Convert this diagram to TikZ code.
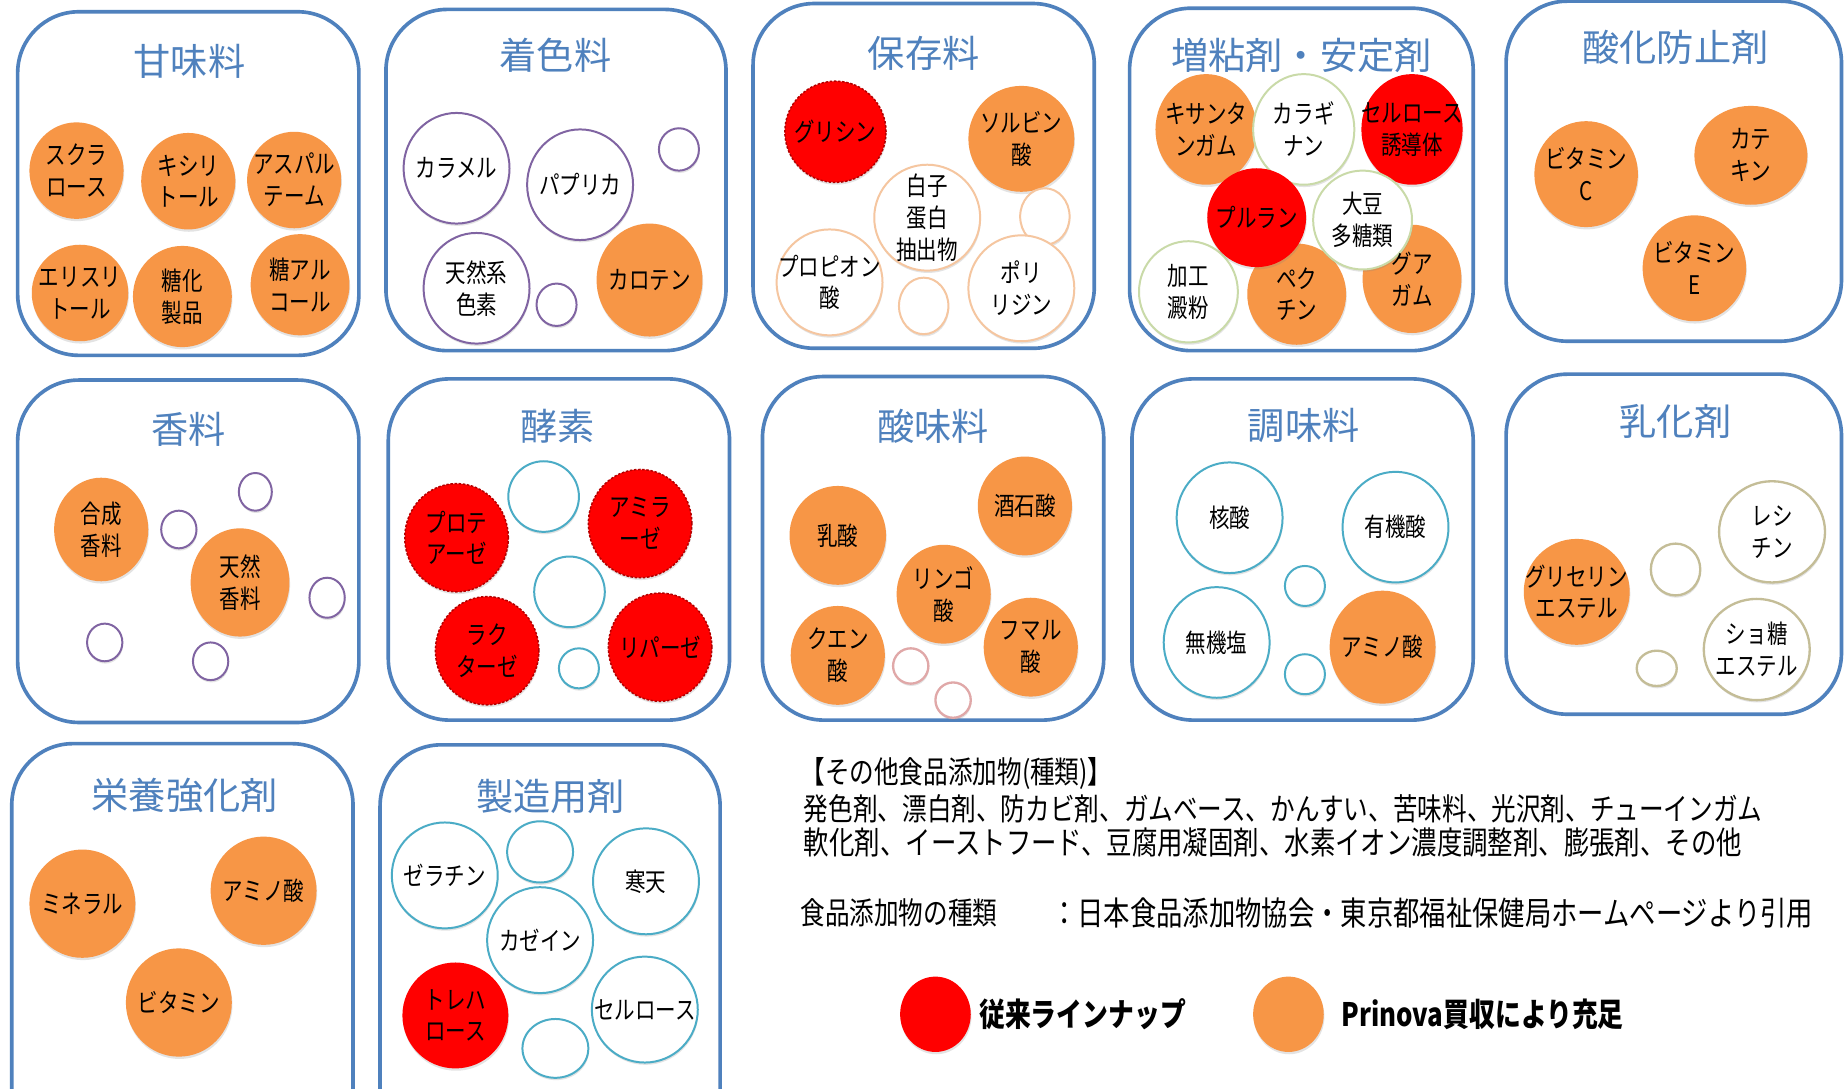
\documentclass[tikz,border=0pt]{standalone}
\usepackage{fontspec}
\setmainfont{Noto Sans CJK JP}
\newfontfamily\jp{Noto Sans CJK JP}
\newfontfamily\jpc{Noto Sans CJK JP}[FakeStretch=0.8]
\usetikzlibrary{shapes.geometric,shadows}
\definecolor{ofblue}{HTML}{4F81BD}
\definecolor{oforange}{HTML}{F79646}
\definecolor{ofred}{HTML}{FF0000}
\definecolor{ofpurple}{HTML}{8064A2}
\definecolor{ofpeach}{HTML}{F5C6A0}
\definecolor{ofgreen}{HTML}{C9DAA8}
\definecolor{ofteal}{HTML}{4BACC6}
\definecolor{ofpink}{HTML}{E0A8A8}
\definecolor{ofkhaki}{HTML}{C4BD97}
\newcommand{\bub}[6]{\node[#1, minimum width=#4*0.05cm, minimum height=#5*0.05cm] (#6) at (#2,#3) {};}
\begin{document}
\begin{tikzpicture}[x=0.025cm, y=-0.025cm,
  panel/.style={draw=ofblue, line width=2.2pt, rounded corners=1.3cm},
  ttl/.style={text=ofblue, font=\jp\fontsize{22.5}{26}\selectfont, inner sep=0pt},
  bb/.style={ellipse, inner sep=0pt, drop shadow={shadow xshift=0.4pt, shadow yshift=-1.4pt, opacity=0.22}},
  orb/.style={bb, fill=oforange},
  redb/.style={bb, fill=ofred},
  redj/.style={bb, fill=ofred, draw=ofred!70!black, line width=0.9pt, dash pattern=on 1.5pt off 1pt},
  pur/.style={bb, fill=white, draw=ofpurple, line width=1.2pt},
  pea/.style={bb, fill=white, draw=ofpeach, line width=1.2pt},
  grn/.style={bb, fill=white, draw=ofgreen, line width=1.2pt},
  tea/.style={bb, fill=white, draw=ofteal, line width=1.2pt},
  pnk/.style={bb, fill=white, draw=ofpink, line width=1.4pt},
  kha/.style={bb, fill=white, draw=ofkhaki, line width=1.4pt},
  ctext/.style={align=center, inner sep=0pt, font=\jpc\fontsize{15.5}{19.2}\selectfont},
  otext/.style={anchor=west, inner sep=0pt, font=\jpc\fontsize{18.6}{21}\selectfont},
  ltext/.style={anchor=west, inner sep=0pt, font=\jpc\bfseries\fontsize{19.5}{21}\selectfont},
]
\fill[white] (0,0) rectangle (1568,925);
\useasboundingbox (0,0) rectangle (1568,925);

% ---------- panels ----------
\draw[panel] (15,10) rectangle (305,302);
\draw[panel] (328,8) rectangle (617,298);
\draw[panel] (640,3) rectangle (930,296);
\draw[panel] (960,7) rectangle (1252,298);
\draw[panel] (1280,1) rectangle (1565,290);
\draw[panel] (15,323) rectangle (305,614);
\draw[panel] (330,322) rectangle (620,612);
\draw[panel] (648,320) rectangle (938,612);
\draw[panel] (962,322) rectangle (1252,612);
\draw[panel] (1280,318) rectangle (1565,607);
\draw[panel] (10,632) rectangle (300,980);
\draw[panel] (323,633) rectangle (612,980);

% ---------- titles ----------
\node[ttl] (T1) at (161,52) {甘味料};
\node[ttl] (T2) at (472,47) {着色料};
\node[ttl] (T3) at (785,45) {保存料};
\node[ttl] (T4) at (1106,47) {増粘剤・安定剤};
\node[ttl] (T5) at (1424,40) {酸化防止剤};
\node[ttl] (T6) at (160,365) {香料};
\node[ttl] (T7) at (474,362) {酵素};
\node[ttl] (T8) at (793,362) {酸味料};
\node[ttl] (T9) at (1108,362) {調味料};
\node[ttl] (T10) at (1424,358) {乳化剤};
\node[ttl] (T11) at (157,676) {栄養強化剤};
\node[ttl] (T12) at (468,677) {製造用剤};

% ---------- 甘味料 ----------
\bub{orb}{65}{145}{40}{41}{a1}
\bub{orb}{160}{154}{40}{41}{a2}
\bub{orb}{250}{153}{40}{41}{a3}
\bub{orb}{68}{249}{41}{41}{a4}
\bub{orb}{155}{252}{42}{43}{a5}
\bub{orb}{255}{242}{42}{43}{a6}
\node[ctext] (ta1) at (a1) {スクラ\\ロース};
\node[ctext] (ta2) at (a2) {キシリ\\トール};
\node[ctext] (ta3) at (a3) {アスパル\\テーム};
\node[ctext] (ta4) at (a4) {エリスリ\\トール};
\node[ctext] (ta5) at (a5) {糖化\\製品};
\node[ctext] (ta6) at (a6) {糖アル\\コール};

% ---------- 着色料 ----------
\bub{pur}{388}{143}{45}{47}{b1}
\bub{pur}{493}{157}{45}{47}{b2}
\bub{pur}{577}{127}{17}{18}{b3}
\bub{pur}{405}{245}{45}{47}{b4}
\bub{pur}{473}{259}{17}{18}{b5}
\bub{orb}{552}{238}{45}{48}{b6}
\node[ctext] (tb1) at (b1) {カラメル};
\node[ctext] (tb2) at (b2) {パプリカ};
\node[ctext] (tb4) at (b4) {天然系\\色素};
\node[ctext] (tb6) at (b6) {カロテン};

% ---------- 保存料 ----------
\bub{redj}{710}{112}{43}{43}{c1}
\bub{orb}{868}{118}{45}{45}{c2}
\bub{pea}{788}{185}{45}{45}{c3}
\bub{pea}{888}{184}{21}{24}{c4}
\bub{pea}{705}{240}{45}{45}{c5}
\bub{pea}{785}{260}{21}{24}{c6}
\bub{pea}{868}{245}{45}{45}{c7}
\node[ctext] (tc1) at (c1) {グリシン};
\node[ctext] (tc2) at (c2) {ソルビン\\酸};
\node[ctext] (tc3) at (c3) {白子\\蛋白\\抽出物};
\node[ctext] (tc5) at (c5) {プロピオン\\酸};
\node[ctext] (tc7) at (c7) {ポリ\\リジン};

% ---------- 増粘剤・安定剤 ----------
\bub{orb}{1025}{110}{43}{47}{d1}
\bub{grn}{1108}{110}{43}{47}{d2}
\bub{redb}{1200}{110}{43}{47}{d3}
\bub{grn}{1010}{248}{42}{43}{d6}
\bub{orb}{1102}{250}{42}{43}{d7}
\bub{orb}{1200}{237}{42}{46}{d8}
\bub{redb}{1068}{185}{42}{42}{d4}
\bub{grn}{1158}{187}{42}{42}{d5}
\node[ctext] (td1) at (d1) {キサンタ\\ンガム};
\node[ctext] (td2) at (d2) {カラギ\\ナン};
\node[ctext] (td3) at (d3) {セルロース\\誘導体};
\node[ctext] (td4) at (d4) {プルラン};
\node[ctext] (td5) at (d5) {大豆\\多糖類};
\node[ctext] (td6) at (d6) {加工\\澱粉};
\node[ctext] (td7) at (d7) {ペク\\チン};
\node[ctext] (td8) at (d8) {グア\\ガム};

% ---------- 酸化防止剤 ----------
\bub{orb}{1348}{148}{44}{45}{e1}
\bub{orb}{1488}{132}{48}{42}{e2}
\bub{orb}{1440}{228}{44}{45}{e3}
\node[ctext] (te1) at (e1) {ビタミン\\C};
\node[ctext] (te2) at (e2) {カテ\\キン};
\node[ctext] (te3) at (e3) {ビタミン\\E};

% ---------- 香料 ----------
\bub{orb}{86}{450}{40}{44}{f1}
\bub{orb}{204}{495}{42}{46}{f2}
\bub{pur}{217}{418}{14}{16}{f3}
\bub{pur}{152}{450}{15}{16}{f4}
\bub{pur}{278}{508}{15}{17}{f5}
\bub{pur}{89}{546}{15}{16}{f6}
\bub{pur}{179}{562}{15}{16}{f7}
\node[ctext] (tf1) at (f1) {合成\\香料};
\node[ctext] (tf2) at (f2) {天然\\香料};

% ---------- 酵素 ----------
\bub{redj}{388}{457}{44}{46}{g1}
\bub{tea}{462}{422}{30}{30}{g2}
\bub{redj}{544}{445}{44}{46}{g3}
\bub{tea}{484}{503}{30}{30}{g4}
\bub{redj}{414}{553}{44}{46}{g5}
\bub{tea}{492}{568}{17}{17}{g6}
\bub{redj}{561}{550}{44}{46}{g7}
\node[ctext] (tg1) at (g1) {プロテ\\アーゼ};
\node[ctext] (tg3) at (g3) {アミラ\\ーゼ};
\node[ctext] (tg5) at (g5) {ラク\\ターゼ};
\node[ctext] (tg7) at (g7) {リパーゼ};

% ---------- 酸味料 ----------
\bub{orb}{712}{455}{41}{42}{h1}
\bub{orb}{871}{430}{40}{42}{h2}
\bub{orb}{802}{505}{40}{42}{h3}
\bub{orb}{712}{557}{40}{42}{h4}
\bub{orb}{876}{550}{40}{42}{h5}
\bub{pnk}{774}{566}{15}{15}{h6}
\bub{pnk}{810}{595}{15}{15}{h7}
\node[ctext] (th1) at (h1) {乳酸};
\node[ctext] (th2) at (h2) {酒石酸};
\node[ctext] (th3) at (h3) {リンゴ\\酸};
\node[ctext] (th4) at (h4) {クエン\\酸};
\node[ctext] (th5) at (h5) {フマル\\酸};

% ---------- 調味料 ----------
\bub{tea}{1045}{440}{45}{47}{i1}
\bub{tea}{1186}{448}{45}{47}{i2}
\bub{tea}{1109}{498}{17}{17}{i3}
\bub{tea}{1034}{546}{45}{47}{i4}
\bub{tea}{1109}{573}{17}{17}{i5}
\bub{orb}{1175}{550}{45}{48}{i6}
\node[ctext] (ti1) at (i1) {核酸};
\node[ctext] (ti2) at (i2) {有機酸};
\node[ctext] (ti4) at (i4) {無機塩};
\node[ctext] (ti6) at (i6) {アミノ酸};

% ---------- 乳化剤 ----------
\bub{orb}{1340}{503}{45}{45}{j1}
\bub{kha}{1424}{484}{21}{22}{j2}
\bub{kha}{1506}{452}{45}{43}{j3}
\bub{kha}{1408}{568}{17}{15}{j4}
\bub{kha}{1493}{552}{45}{43}{j5}
\node[ctext] (tj1) at (j1) {グリセリン\\エステル};
\node[ctext] (tj3) at (j3) {レシ\\チン};
\node[ctext] (tj5) at (j5) {ショ糖\\エステル};

% ---------- 栄養強化剤 ----------
\bub{orb}{70}{768}{45}{46}{k1}
\bub{orb}{224}{757}{45}{46}{k2}
\bub{orb}{152}{852}{45}{46}{k3}
\node[ctext] (tk1) at (k1) {ミネラル};
\node[ctext] (tk2) at (k2) {アミノ酸};
\node[ctext] (tk3) at (k3) {ビタミン};

% ---------- 製造用剤 ----------
\bub{tea}{378}{744}{45}{45}{m1}
\bub{tea}{459}{724}{28}{26}{m2}
\bub{tea}{549}{749}{45}{45}{m3}
\bub{tea}{459}{799}{45}{45}{m4}
\bub{redb}{387}{863}{45}{45}{m5}
\bub{tea}{472}{891}{28}{25}{m6}
\bub{tea}{548}{858}{45}{45}{m7}
\node[ctext] (tm1) at (m1) {ゼラチン};
\node[ctext] (tm3) at (m3) {寒天};
\node[ctext] (tm4) at (m4) {カゼイン};
\node[ctext] (tm5) at (m5) {トレハ\\ロース};
\node[ctext] (tm7) at (m7) {セルロース};

% ---------- other text ----------
\node[otext] (o1) at (680,657) {【その他食品添加物(種類)】};
\node[otext] (o2) at (683,687) {発色剤、漂白剤、防カビ剤、ガムベース、かんすい、苦味料、光沢剤、チューインガム};
\node[otext, font=\jpc\fontsize{19.2}{21}\selectfont] (o3) at (683,716) {軟化剤、イーストフード、豆腐用凝固剤、水素イオン濃度調整剤、膨張剤、その他};
\node[otext] (o4) at (680,776) {食品添加物の種類};
\node[otext, font=\jpc\fontsize{19.9}{21}\selectfont] (o5) at (893,776) {：日本食品添加物協会・東京都福祉保健局ホームページより引用};

% ---------- legend ----------
\bub{redb}{795}{862}{30}{32}{L1}
\bub{orb}{1095}{862}{30}{32}{L2}
\node[ltext] (l1) at (832,862) {従来ラインナップ};
\node[ltext] (l2) at (1140,862) {Prinova買収により充足};
\end{tikzpicture}
\end{document}
